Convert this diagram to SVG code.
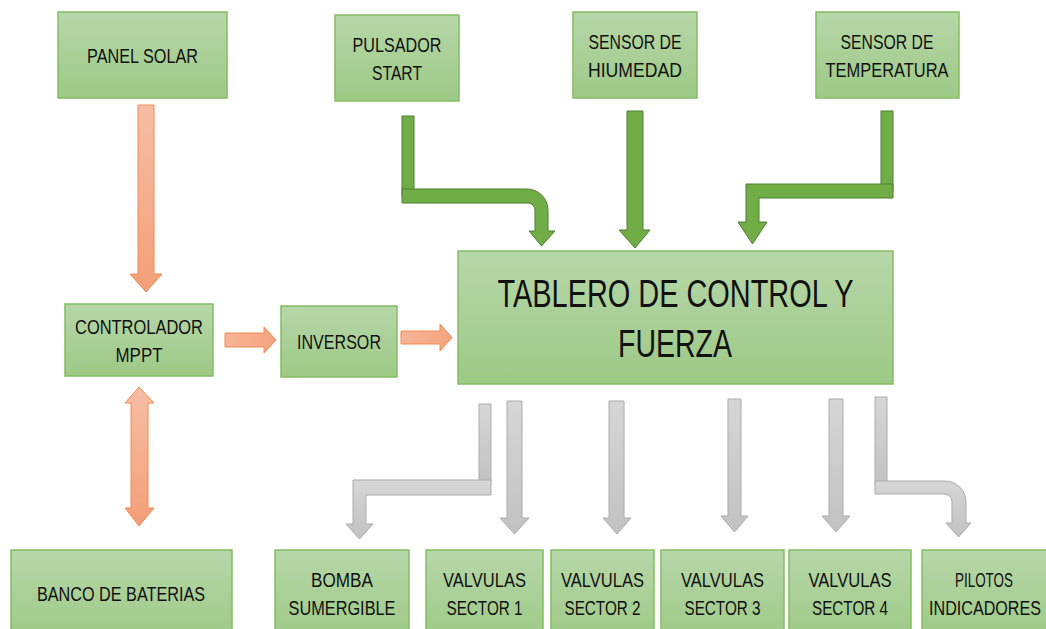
<svg xmlns="http://www.w3.org/2000/svg" width="1046" height="629" viewBox="0 0 1046 629">
<defs>
<linearGradient id="gNode" x1="0" y1="0" x2="0" y2="1">
<stop offset="0" stop-color="#b7d7a9"/>
<stop offset="1" stop-color="#9dc986"/>
</linearGradient>
<linearGradient id="gOr" x1="0" y1="0" x2="0" y2="1">
<stop offset="0" stop-color="#f6bea5"/>
<stop offset="1" stop-color="#f39f78"/>
</linearGradient>
<linearGradient id="gOrH" x1="0" y1="0" x2="1" y2="0">
<stop offset="0" stop-color="#f6b497"/>
<stop offset="1" stop-color="#f4a47f"/>
</linearGradient>
<linearGradient id="gGr" x1="0" y1="0" x2="0" y2="1">
<stop offset="0" stop-color="#d6d6d6"/>
<stop offset="1" stop-color="#c2c2c2"/>
</linearGradient>
</defs>
<style>
.node{fill:url(#gNode);stroke:#84bc62;stroke-width:1.5}
.t{font-family:"Liberation Sans",Arial,sans-serif;font-size:20px;fill:#111;text-anchor:middle}
.tb{font-family:"Liberation Sans",Arial,sans-serif;font-size:38px;fill:#111;text-anchor:middle}
.ga{fill:#70ad47;stroke:#4f7f30;stroke-width:1}
.oa{fill:url(#gOr);stroke:#f08a52;stroke-width:1}
.oh{fill:url(#gOrH);stroke:#f08a52;stroke-width:1}
.ya{fill:url(#gGr);stroke:#ababab;stroke-width:1}
</style>
<rect width="1046" height="629" fill="#ffffff"/>

<g id="connectors">
<polygon class="oa" points="138,105 154,105 154,274 162,274 146,292 130,274 138,274"/>
<polygon class="oh" points="225,333 264,333 264,327 276,340 264,353 264,347 225,347"/>
<polygon class="oh" points="401,331 440,331 440,324 452,337.5 440,351 440,344 401,344"/>
<polygon class="oa" points="139,387 154,403 148,403 148,508 154,508 139,526 125,508 131,508 131,403 125,403"/>

<rect class="ga" x="402" y="116" width="12" height="80"/>
<path class="ga" d="M402,189 H527 A21,21 0 0 1 548,210 V231 H555 L541.5,246 L529,231 H535 V210 A7,7 0 0 0 528,203 H402 Z"/>
<polygon class="ga" points="627,111 643,111 643,230 650,230 635,248 619,230 627,230"/>
<rect class="ga" x="881" y="111" width="12" height="80"/>
<path class="ga" d="M893,184 V198 H759 V222 H767 L752.5,244 L738,222 H746 V184 Z"/>

<rect class="ya" x="479" y="404" width="12" height="80"/>
<path class="ya" d="M491,480 V495 H366 V524 H373 L359.5,539 L346,524 H353 V480 Z"/>
<polygon class="ya" points="507,401 522,401 522,518 529,518 514.5,534 500,518 507,518"/>
<polygon class="ya" points="609,401 624,401 624,518 631,518 617,534 603,518 609,518"/>
<polygon class="ya" points="728,399 741,399 741,516 748,516 734.5,532 721,516 728,516"/>
<polygon class="ya" points="829,399 843,399 843,516 850,516 836,532 822,516 829,516"/>
<rect class="ya" x="875" y="397" width="12" height="88"/>
<path class="ya" d="M875,481 H945 A21,21 0 0 1 966,502 V523 H971 L958.5,537 L946,523 H952 V502 A8,8 0 0 0 944,494 H875 Z"/>
</g>

<g id="panel-solar">
<rect class="node" x="58" y="12" width="169" height="86"/>
<text class="t" x="142.5" y="63" textLength="111" lengthAdjust="spacingAndGlyphs">PANEL SOLAR</text>
</g>
<g id="pulsador-start">
<rect class="node" x="335" y="15" width="124" height="86"/>
<text class="t" x="397" y="52" textLength="89" lengthAdjust="spacingAndGlyphs">PULSADOR</text>
<text class="t" x="397" y="80" textLength="50" lengthAdjust="spacingAndGlyphs">START</text>
</g>
<g id="sensor-humedad">
<rect class="node" x="573" y="12" width="124" height="86"/>
<text class="t" x="635" y="49" textLength="93" lengthAdjust="spacingAndGlyphs">SENSOR DE</text>
<text class="t" x="635" y="77" textLength="94" lengthAdjust="spacingAndGlyphs">HIUMEDAD</text>
</g>
<g id="sensor-temperatura">
<rect class="node" x="816" y="12" width="143" height="86"/>
<text class="t" x="887" y="49" textLength="93" lengthAdjust="spacingAndGlyphs">SENSOR DE</text>
<text class="t" x="887" y="77" textLength="123" lengthAdjust="spacingAndGlyphs">TEMPERATURA</text>
</g>
<g id="controlador">
<rect class="node" x="65" y="304" width="148" height="72"/>
<text class="t" x="139" y="334" textLength="128" lengthAdjust="spacingAndGlyphs">CONTROLADOR</text>
<text class="t" x="139" y="362" textLength="47" lengthAdjust="spacingAndGlyphs">MPPT</text>
</g>
<g id="inversor">
<rect class="node" x="281" y="306" width="116" height="71"/>
<text class="t" x="339" y="349" textLength="84" lengthAdjust="spacingAndGlyphs">INVERSOR</text>
</g>
<g id="tablero">
<rect class="node" x="458" y="251" width="435" height="133"/>
<text class="tb" x="675.5" y="307" textLength="356" lengthAdjust="spacingAndGlyphs">TABLERO DE CONTROL Y</text>
<text class="tb" x="675" y="357" textLength="114" lengthAdjust="spacingAndGlyphs">FUERZA</text>
</g>
<g id="banco-baterias">
<rect class="node" x="11" y="550" width="221" height="90"/>
<text class="t" x="121" y="601" textLength="168" lengthAdjust="spacingAndGlyphs">BANCO DE BATERIAS</text>
</g>
<g id="bomba">
<rect class="node" x="275" y="550" width="134" height="90"/>
<text class="t" x="342" y="587" textLength="62" lengthAdjust="spacingAndGlyphs">BOMBA</text>
<text class="t" x="342" y="615" textLength="107" lengthAdjust="spacingAndGlyphs">SUMERGIBLE</text>
</g>
<g id="valvulas-1">
<rect class="node" x="426" y="550" width="117" height="90"/>
<text class="t" x="484.5" y="587" textLength="83" lengthAdjust="spacingAndGlyphs">VALVULAS</text>
<text class="t" x="484.5" y="615" textLength="76" lengthAdjust="spacingAndGlyphs">SECTOR 1</text>
</g>
<g id="valvulas-2">
<rect class="node" x="551" y="550" width="103" height="90"/>
<text class="t" x="602.5" y="587" textLength="83" lengthAdjust="spacingAndGlyphs">VALVULAS</text>
<text class="t" x="602.5" y="615" textLength="76" lengthAdjust="spacingAndGlyphs">SECTOR 2</text>
</g>
<g id="valvulas-3">
<rect class="node" x="661" y="550" width="123" height="90"/>
<text class="t" x="722.5" y="587" textLength="83" lengthAdjust="spacingAndGlyphs">VALVULAS</text>
<text class="t" x="722.5" y="615" textLength="76" lengthAdjust="spacingAndGlyphs">SECTOR 3</text>
</g>
<g id="valvulas-4">
<rect class="node" x="789" y="550" width="122" height="90"/>
<text class="t" x="850" y="587" textLength="83" lengthAdjust="spacingAndGlyphs">VALVULAS</text>
<text class="t" x="850" y="615" textLength="76" lengthAdjust="spacingAndGlyphs">SECTOR 4</text>
</g>
<g id="pilotos">
<rect class="node" x="922" y="550" width="140" height="90"/>
<text class="t" x="984" y="587" textLength="58" lengthAdjust="spacingAndGlyphs">PILOTOS</text>
<text class="t" x="985" y="615" textLength="112" lengthAdjust="spacingAndGlyphs">INDICADORES</text>
</g>
</svg>
